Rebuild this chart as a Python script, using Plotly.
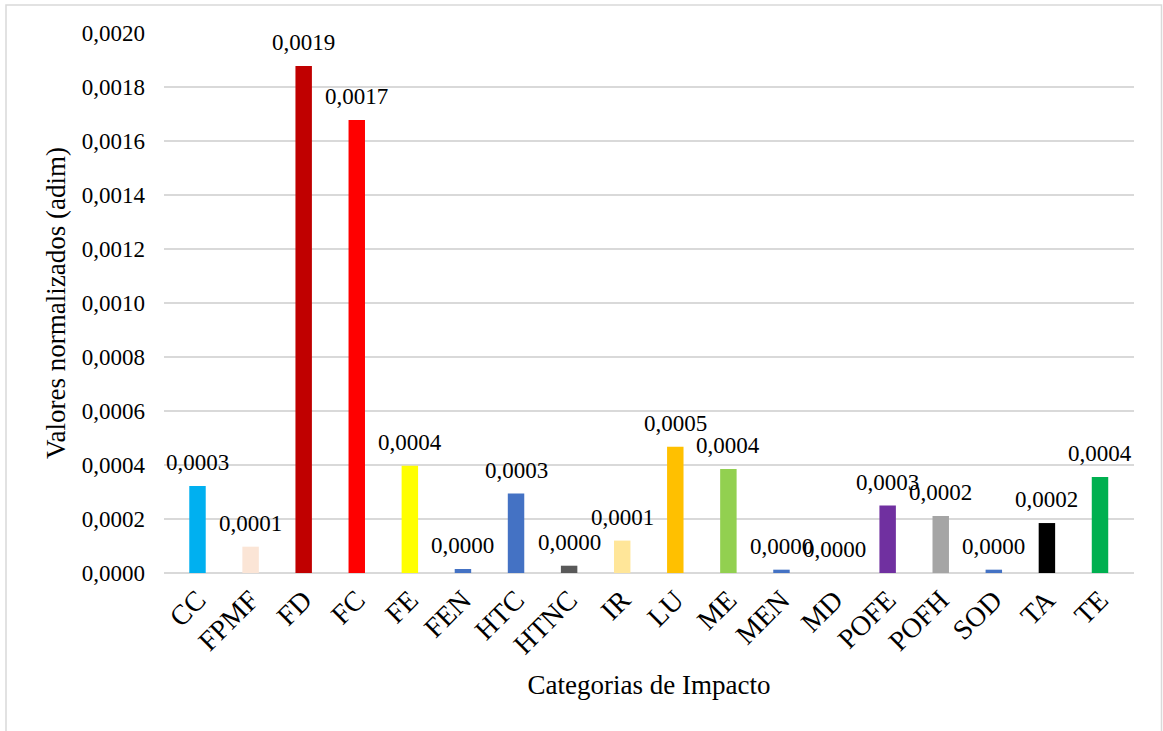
import plotly.graph_objects as go

categories = ["CC", "FPMF", "FD", "FC", "FE", "FEN", "HTC", "HTNC", "IR", "LU",
              "ME", "MEN", "MD", "POFE", "POFH", "SOD", "TA", "TE"]
values = [0.000322, 0.0000975, 0.001878, 0.001678, 0.000397, 0.0000148, 0.000294,
          0.000027, 0.000120, 0.000468, 0.000385, 0.0000123, 0.0, 0.000250,
          0.000211, 0.0000123, 0.000185, 0.000356]
labels = ["0,0003", "0,0001", "0,0019", "0,0017", "0,0004", "0,0000", "0,0003",
          "0,0000", "0,0001", "0,0005", "0,0004", "0,0000", "0,0000", "0,0003",
          "0,0002", "0,0000", "0,0002", "0,0004"]
colors = ["#00B0F0", "#FBE5D6", "#C00000", "#FF0000", "#FFFF00", "#4472C4", "#4472C4",
          "#595959", "#FFE699", "#FFC000", "#92D050", "#4472C4", "#ED7D31", "#7030A0",
          "#A5A5A5", "#4472C4", "#000000", "#00B050"]
y_ticks = [i * 0.0002 for i in range(11)]
y_ticktext = ["0,%04d" % round(v * 10000) for v in y_ticks]

FONT = "Times New Roman, Liberation Serif, serif"
FS = 23      # tick labels / data labels
FS_T = 27    # axis titles
FS_X = 28    # rotated category labels

fig = go.Figure()
fig.add_trace(go.Bar(x=categories, y=values, marker_color=colors, marker_line_width=0))

for c, v, t in zip(categories, values, labels):
    fig.add_annotation(x=c, y=v, text=t, showarrow=False, yanchor="bottom",
                       yshift=9, font=dict(family=FONT, size=FS, color="#000000"))

fig.update_layout(
    width=1163, height=731,
    margin=dict(l=164, r=29, t=33, b=158),
    paper_bgcolor="white", plot_bgcolor="white",
    bargap=0.69, showlegend=False,
    font=dict(family=FONT, size=FS, color="#000000"),
    xaxis=dict(tickangle=-45, showgrid=False, showline=False, zeroline=False,
               ticklabelstandoff=4,
               title=dict(text="Categorias de Impacto", font=dict(family=FONT, size=FS_T), standoff=16),
               tickfont=dict(family=FONT, size=FS_X)),
    yaxis=dict(range=[0, 0.002], tickvals=y_ticks, ticktext=y_ticktext,
               showgrid=True, gridcolor="#D9D9D9", gridwidth=1.5,
               zeroline=True, zerolinecolor="#D9D9D9", zerolinewidth=1.5,
               showline=False, ticklabelstandoff=18,
               title=dict(text="Valores normalizados (adim)", font=dict(family=FONT, size=FS_T), standoff=8),
               tickfont=dict(family=FONT, size=FS)),
)

# outer chart border (bottom edge lies below the visible canvas)
fig.add_shape(type="rect", xref="paper", yref="paper",
              x0=-158 / 970, x1=1 + 27.5 / 970, y0=-200 / 540, y1=1 + 28 / 540,
              line=dict(color="#D9D9D9", width=1.5), fillcolor="rgba(0,0,0,0)", layer="below")

fig.write_html("out.html")
